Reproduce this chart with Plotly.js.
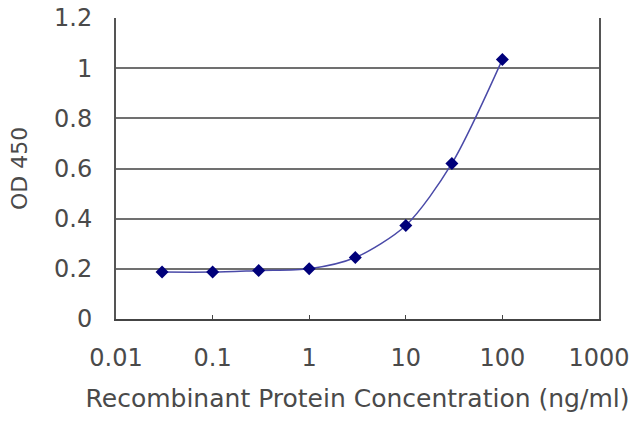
<!DOCTYPE html>
<html>
<head>
<meta charset="utf-8">
<script src="https://cdn.plot.ly/plotly-3.0.1.min.js"></script>
<style>
  html, body { margin: 0; padding: 0; background: #fff; }
  #chart { width: 640px; height: 427px; }
</style>
</head>
<body>
<div id="chart"></div>
<script>
const concentration = [0.03, 0.1, 0.3, 1, 3, 10, 30, 100];
const od450 = [0.187, 0.187, 0.193, 0.2, 0.245, 0.373, 0.62, 1.035];

const xTickVals = [0.01, 0.1, 1, 10, 100, 1000];
const xTickText = ['0.01', '0.1', '1', '10', '100', '1000'];
const yTickVals = [0, 0.2, 0.4, 0.6, 0.8, 1, 1.2];
const yTickText = ['0', '0.2', '0.4', '0.6', '0.8', '1', '1.2'];

const tickFont = { family: 'DejaVu Sans, Verdana, sans-serif', size: 24, color: '#4a4a4a' };
const titleFont = { family: 'DejaVu Sans, Verdana, sans-serif', size: 25, color: '#4a4a4a' };
const yTitleFont = { family: 'DejaVu Sans, Verdana, sans-serif', size: 22, color: '#4a4a4a' };

const curve = {
    x: concentration,
    y: od450,
    type: 'scatter',
    mode: 'lines+markers',
    line: { shape: 'spline', smoothing: 0.8, color: '#4a4aa8', width: 1.5 },
    marker: { symbol: 'diamond', size: 10, color: '#00007a' },
    hoverinfo: 'x+y'
};

Plotly.newPlot('chart', [curve], {
    width: 640,
    height: 427,
    margin: { l: 116, r: 41, t: 18, b: 108 },
    paper_bgcolor: '#fff',
    plot_bgcolor: '#fff',
    showlegend: false,
    font: tickFont,
    xaxis: {
        type: 'log',
        range: [-2, 3],
        tickvals: xTickVals,
        ticktext: xTickText,
        showgrid: false,
        zeroline: false,
        showline: true,
        linecolor: '#444',
        linewidth: 2,
        ticks: 'inside',
        ticklen: 4,
        tickcolor: '#444',
        tickfont: tickFont,
        ticklabelstandoff: 16,
        title: { text: 'Recombinant Protein Concentration (ng/ml)', font: titleFont, standoff: 19 }
    },
    yaxis: {
        range: [0, 1.2],
        tickvals: yTickVals,
        ticktext: yTickText,
        showgrid: true,
        gridcolor: '#707070',
        gridwidth: 2,
        zeroline: false,
        showline: true,
        mirror: true,
        linecolor: '#555',
        linewidth: 2,
        ticks: '',
        tickfont: tickFont,
        ticklabelstandoff: 17,
        title: { text: 'OD 450', font: yTitleFont, standoff: 20 }
    }
}, { displayModeBar: false, staticPlot: true });
</script>
</body>
</html>
